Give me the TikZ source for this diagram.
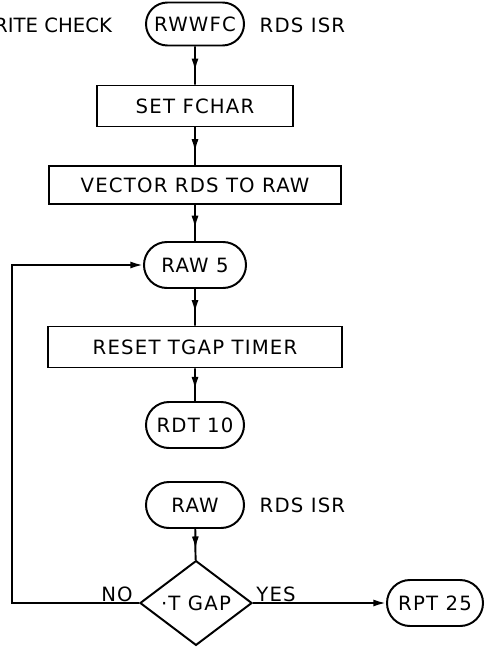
\documentclass[tikz,border=0pt]{standalone}
\usepackage{fontspec}
\setmainfont{DejaVu Sans}[LetterSpace=6]
\usetikzlibrary{positioning, shapes.geometric, shapes.misc, arrows.meta, decorations.markings}

\begin{document}
\begin{tikzpicture}[x=0.025cm, y=-0.025cm, line width=1.4pt,
    every node/.style={font=\fontsize{14}{16}\selectfont},
    term/.style={draw, rounded rectangle, minimum width=2.45cm, minimum height=1.15cm, inner sep=0pt},
    proc/.style={draw, minimum height=1.025cm, inner sep=0pt},
    midarrow/.style={postaction={decorate}, decoration={markings, mark=at position 0.65 with {\arrow{Latex[length=9pt,width=5pt]}}}},
    tip/.style={-{Latex[length=9pt,width=5pt]}}]
  \useasboundingbox (0,0) rectangle (487,647);
  \node[term, minimum height=1.075cm] (rwwfc) at (195,24) {RWWFC};
  \node[anchor=east, inner sep=0pt] (wrchk) at (113,25) {\addfontfeatures{LetterSpace=0}WRITE CHECK};
  \node[anchor=west] (isr1) at (254,25) {RDS ISR};
  \node[proc, minimum width=4.9cm] (setf) at (195,106) {SET FCHAR};
  \node[proc, minimum width=7.3cm, minimum height=0.95cm] (vect) at (195,185) {VECTOR RDS TO RAW};
  \node[term, minimum width=2.55cm] (raw5) at (195,265) {RAW 5};
  \node[proc, minimum width=7.35cm] (reset) at (195,347) {RESET TGAP TIMER};
  \node[term] (rdt10) at (195,425) {RDT 10};
  \node[term] (raw) at (195,505) {RAW};
  \node[anchor=west] (isr2) at (254,505) {RDS ISR};
  \node[draw, diamond, minimum width=2.8cm, minimum height=2.05cm, inner sep=0pt] (tgap) at (196,603) {·T GAP};
  \node[term, minimum width=2.4cm] (rpt25) at (435,603) {RPT 25};
  \node (no) at (117,594) {NO};
  \node (yes) at (276,594) {YES};
  \coordinate (back) at (12,603);

  \draw[midarrow] (rwwfc) -- (setf);
  \draw[midarrow] (setf) -- (vect);
  \draw[midarrow] (vect) -- (raw5);
  \draw[midarrow] (raw5) -- (reset);
  \draw[midarrow] (reset) -- (rdt10);
  \draw[midarrow] (raw) -- (tgap);
  \draw[tip] (tgap.west) -- (back) |- (raw5.west);
  \draw[tip] (tgap.east) -- (rpt25.west);
\end{tikzpicture}
\end{document}
